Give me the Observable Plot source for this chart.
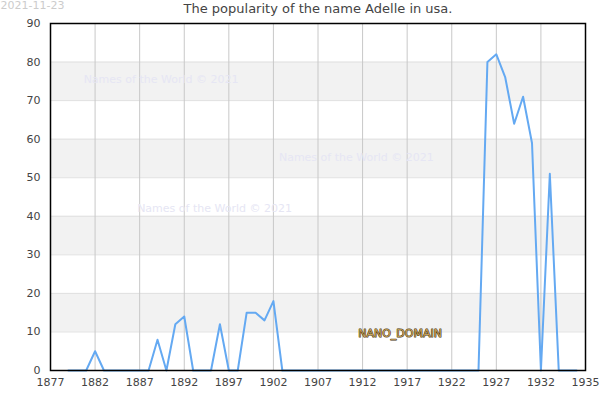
<!DOCTYPE html>
<html><head><meta charset="utf-8">
<script src="https://cdn.jsdelivr.net/npm/d3@7"></script>
<script src="https://cdn.jsdelivr.net/npm/@observablehq/plot@0.6"></script>
<style>body{margin:0;background:#fff;} svg{font-family:"DejaVu Sans",sans-serif;}</style>
</head><body><div id="chart"></div>
<script>
const years = [1879,1880,1881,1882,1883,1884,1885,1886,1887,1888,1889,1890,1891,1892,1893,1894,1895,1896,1897,1898,1899,1900,1901,1902,1903,1904,1905,1906,1907,1908,1909,1910,1911,1912,1913,1914,1915,1916,1917,1918,1919,1920,1921,1922,1923,1924,1925,1926,1927,1928,1929,1930,1931,1932,1933,1934,1935,1936];
const values = [0,0,0,5,0,0,0,0,0,0,8,0,12,14,0,0,0,12,0,0,15,15,13,18,0,0,0,0,0,0,0,0,0,0,0,0,0,0,0,0,0,0,0,0,0,0,0,80,82,76,64,71,59,0,51,0,0,0];
const xTicks = [1877,1882,1887,1892,1897,1902,1907,1912,1917,1922,1927,1932,1937];
const xTickLabels = ["1877","1882","1887","1892","1897","1902","1907","1912","1917","1922","1927","1932","1935"];
const yTicks = [0,10,20,30,40,50,60,70,80,90];
const bandStarts = [10,30,50,70];
const title = "The popularity of the name Adelle in usa.";
const dateText = "2021-11-23";
const watermarkText = "Names of the World © 2021";
const watermarks = [{x:1889.4,y:75.5},{x:1911.3,y:55.2},{x:1895.4,y:42}];
const nanoLabel = [{x:1916.2,y:9.6,t:"NANO_DOMAIN"}];

const data = years.map((y,i)=>({year:y,value:values[i]}));
const bands = bandStarts.map(b=>({y1:b,y2:b+10}));
const labelOf = new Map(xTicks.map((t,i)=>[t,xTickLabels[i]]));

const chart = Plot.plot({
  width:600, height:400,
  marginLeft:50, marginRight:15, marginTop:23, marginBottom:30,
  style:{fontSize:"11px", color:"#333", fontFamily:"DejaVu Sans, sans-serif"},
  x:{domain:[1877,1937], ticks:xTicks, tickFormat:d=>labelOf.get(d), tickSize:0, tickPadding:8, label:null},
  y:{domain:[0,90], ticks:yTicks, tickSize:0, tickPadding:10, label:null},
  marks:[
    Plot.rectY(bands,{x1:1877,x2:1937,y1:"y1",y2:"y2",fill:"#f2f2f2"}),
    Plot.ruleY(yTicks,{stroke:"#e0e0e0",strokeWidth:1}),
    Plot.ruleX(xTicks,{stroke:"#c8c8c8",strokeWidth:1}),
    Plot.text(watermarks,{x:"x",y:"y",text:()=>watermarkText,fill:"#e6e6f4",fontSize:11}),
    Plot.line(data,{x:"year",y:"value",stroke:"#64a9f2",strokeWidth:2}),
    Plot.text(nanoLabel,{x:"x",y:"y",text:"t",fill:"#c9a35a",stroke:"#3f300c",strokeWidth:1,paintOrder:"stroke",fontSize:11}),
    Plot.frame({stroke:"#000",strokeWidth:1.5}),
    Plot.axisX({ticks:xTicks, tickFormat:d=>labelOf.get(d), tickSize:0, tickPadding:8, fill:"#444", fontSize:11}),
    Plot.axisY({ticks:yTicks, tickSize:0, tickPadding:10, fill:"#444", fontSize:11}),
    Plot.text([title],{frameAnchor:"top",dy:-20,text:d=>d,fontSize:13,fill:"#444"}),
    Plot.text([dateText],{frameAnchor:"top-left",dx:-50,dy:-22,text:d=>d,fontSize:11,fill:"#cccccc",textAnchor:"start"})
  ]
});
document.getElementById("chart").appendChild(chart);
</script></body></html>
